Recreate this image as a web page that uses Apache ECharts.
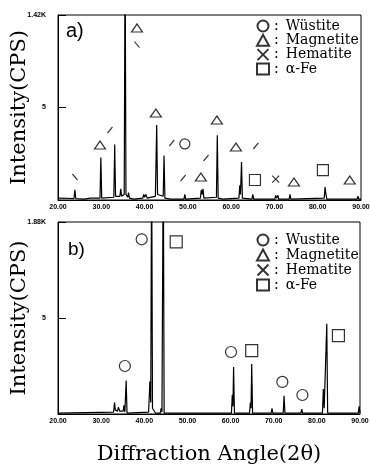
<!DOCTYPE html>
<html>
<head>
<meta charset="utf-8">
<title>XRD patterns</title>
<script src="https://cdn.jsdelivr.net/npm/echarts@6/dist/echarts.min.js"></script>
<style>
  html, body { margin: 0; padding: 0; background: #fff; }
  #chart { width: 370px; height: 468px; }
</style>
</head>
<body>
<div id="chart"></div>
<script>
// x axis ticks (2 theta, degrees) and y tick texts
const angleTicks = [20, 30, 40, 50, 60, 70, 80, 90];
const yTopLabelA = '1.42K';
const yTopLabelB = '1.88K';
const yMidLabel = '5';

// pattern a) : [2theta, intensity], 10 = top of the frame
const patternA = [
  [20, 0.1], [23.7, 0.08], [23.9, 0.55], [24.1, 0.08], [26, 0.05], [27.5, 0.1],
  [29.7, 0.1], [29.9, 2.3], [30.1, 0.1], [32.9, 0.15], [33.1, 3.0], [33.3, 0.2],
  [34.3, 0.2], [34.5, 0.6], [34.7, 0.2], [35.3, 0.3], [35.5, 14], [35.7, 0.3],
  [36.1, 0.15], [36.3, 0.4], [36.5, 0.1], [37.5, 0.05], [39.6, 0.1], [39.8, 0.3],
  [40.0, 0.15], [40.3, 0.3], [40.6, 0.1], [42.5, 0.2], [42.8, 4.05], [43.0, 0.3],
  [43.2, 0.3], [44.3, 0.2], [44.5, 2.4], [44.7, 0.1], [46, 0.05], [49.1, 0.05],
  [49.3, 0.3], [49.5, 0.05], [52.9, 0.1], [53.1, 0.55], [53.3, 0.3], [53.5, 0.6],
  [53.7, 0.1], [56.6, 0.15], [56.8, 3.5], [57.0, 0.1], [58, 0.05], [61.8, 0.1],
  [62.0, 0.8], [62.15, 0.3], [62.4, 2.05], [62.6, 0.1], [64.8, 0.05], [65.0, 0.3],
  [65.2, 0.05], [70.1, 0.05], [70.3, 0.25], [70.5, 0.1], [70.8, 0.25], [71.0, 0.05],
  [73.4, 0.05], [73.6, 0.3], [73.8, 0.05], [81.5, 0.1], [81.7, 0.7], [81.9, 0.3],
  [82.1, 0.05], [89.1, 0.05], [89.3, 0.2], [89.5, 0.05], [90, 0.05]
];

// pattern b)
const patternB = [
  [20, 0.05], [32.9, 0.1], [33.1, 0.6], [33.3, 0.2], [33.8, 0.15], [34.0, 0.35],
  [34.3, 0.15], [35.1, 0.15], [35.3, 0.45], [35.5, 0.1], [35.6, 0.1], [35.8, 1.75],
  [36.0, 0.05], [41.0, 0.1], [41.3, 1.7], [41.5, 0.6], [41.7, 14], [41.9, 0.3],
  [42.3, 0.25], [42.6, 0.05], [43.7, 0.05], [43.9, 0.3], [44.1, 0.1], [44.4, 14],
  [44.6, 0.05], [55, 0.05], [55.1, 0.15], [55.2, 0.05], [60.2, 0.05], [60.4, 1.0],
  [60.55, 0.4], [60.7, 2.45], [60.9, 0.05], [64.4, 0.05], [64.6, 0.6], [64.75, 0.3],
  [64.9, 2.6], [65.1, 0.05], [69.4, 0.05], [69.6, 0.3], [69.8, 0.05], [72.2, 0.05],
  [72.4, 0.95], [72.6, 0.05], [76.3, 0.05], [76.5, 0.25], [76.7, 0.05], [81.3, 0.05],
  [81.5, 1.3], [81.7, 0.3], [82.1, 0.3], [82.3, 4.7], [82.5, 0.05], [89.6, 0.05],
  [89.8, 0.4], [90, 0.05]
];

// phase marks placed over the peaks
const wustiteA = [[49.3, 3.03]];
const magnetiteA = [[38.25, 9.3], [29.7, 2.97], [42.6, 4.7], [53.0, 1.24], [56.7, 4.32],
  [61.1, 2.86], [74.5, 0.97], [87.4, 1.08]];
const hematiteA = [[70.3, 1.13]];
const ironA = [[65.5, 1.08], [81.2, 1.62]];
const backslashA = [[23.9, 1.24], [38.25, 8.4]];
const slashA = [[32.0, 3.78], [46.3, 3.08], [48.9, 1.19], [54.2, 2.27], [65.7, 2.92]];

const wustiteB = [[35.5, 2.5], [39.4, 9.1], [60.1, 3.23], [72.0, 1.67], [76.65, 0.99]];
const ironB = [[47.4, 8.96], [64.9, 3.3], [85.0, 4.08]];

const phaseNames = ['Wüstite', 'Magnetite', 'Hematite', 'α-Fe'];

const SERIF = "'DejaVu Serif', 'Liberation Serif', serif";
const crossPath = 'path://M0,0L10,10M10,0L0,10';
const hollow = { color: 'rgba(0,0,0,0)', borderColor: '#000', borderWidth: 1.2 };

function xAxisFor(i, name) {
  return {
    gridIndex: i, type: 'value', min: 20, max: 90, interval: 10,
    axisLine: { lineStyle: { color: '#000', width: 1 } },
    axisTick: { show: false },
    splitLine: { show: false },
    axisLabel: {
      color: '#000', fontSize: 7, fontWeight: 'bold', fontFamily: 'Liberation Sans',
      margin: 4, formatter: v => angleTicks.includes(v) ? v.toFixed(2) : ''
    },
    name: name || '', nameLocation: 'middle', nameGap: 30,
    nameTextStyle: { color: '#000', fontFamily: SERIF, fontSize: 21 }
  };
}

function yAxisFor(i, topLabel) {
  return {
    gridIndex: i, type: 'value', min: 0, max: 10, interval: 5,
    axisLine: { show: true, lineStyle: { color: '#000', width: 1 } },
    axisTick: { show: true, inside: true, length: 8, lineStyle: { color: '#000' } },
    splitLine: { show: false },
    axisLabel: {
      color: '#000', fontSize: 7, fontWeight: 'bold', fontFamily: 'Liberation Sans',
      margin: 12, formatter: v => v === 10 ? topLabel : (v === 5 ? yMidLabel : '')
    },
    name: 'Intensity(CPS)', nameLocation: 'middle', nameGap: 28, nameMoveOverlap: false,
    nameTextStyle: { color: '#000', fontFamily: SERIF, fontSize: 21 }
  };
}

function marks(name, data, i, symbol, size) {
  return {
    name, type: 'scatter', xAxisIndex: i, yAxisIndex: i, data,
    symbol, symbolSize: size, itemStyle: hollow, z: 5, silent: true
  };
}

function legendFor(top, gap, rename) {
  return {
    data: phaseNames, orient: 'vertical', left: 251, top, itemGap: gap,
    itemWidth: 12, itemHeight: 11, selectedMode: false,
    formatter: n => ':\u2002' + (rename ? n.replace('ü', 'u') : n),
    textStyle: { color: '#000', fontFamily: SERIF, fontSize: 14, lineHeight: 14 }
  };
}

const chart = echarts.init(document.getElementById('chart'), null, { renderer: 'canvas' });

chart.setOption({
  backgroundColor: '#fff',
  animation: false,
  grid: [
    { left: 58, top: 15, width: 303, height: 185, show: true, borderColor: '#000', borderWidth: 1,
      containLabel: false, outerBoundsMode: 'none' },
    { left: 58, top: 222, width: 302, height: 192, show: true, borderColor: '#000', borderWidth: 1,
      containLabel: false, outerBoundsMode: 'none' }
  ],
  xAxis: [xAxisFor(0), xAxisFor(1, 'Diffraction Angle(2θ)')],
  yAxis: [yAxisFor(0, yTopLabelA), yAxisFor(1, yTopLabelB)],
  legend: [legendFor(14, 0.3, false), legendFor(228, 1, true)],
  graphic: [
    { type: 'text', left: 66, top: 21, style: { text: 'a)', font: "20px 'Liberation Sans'", fill: '#000' } },
    { type: 'text', left: 68, top: 240, style: { text: 'b)', font: "19px 'Liberation Sans'", fill: '#000' } }
  ],
  series: [
    {
      type: 'line', xAxisIndex: 0, yAxisIndex: 0, data: patternA, symbol: 'none',
      clip: true, lineStyle: { color: '#000', width: 1.2 }, silent: true
    },
    {
      type: 'line', xAxisIndex: 1, yAxisIndex: 1, data: patternB, symbol: 'none',
      clip: true, lineStyle: { color: '#000', width: 1.2 }, silent: true
    },
    marks('Wüstite', wustiteA, 0, 'circle', 10),
    marks('Magnetite', magnetiteA, 0, 'triangle', [11, 8]),
    marks('Hematite', hematiteA, 0, crossPath, 7),
    marks('α-Fe', ironA, 0, 'rect', 11),
    marks('marks', backslashA, 0, 'path://M0,0L10,10', [5, 6]),
    marks('marks', slashA, 0, 'path://M10,0L0,10', [5, 6]),
    marks('Wüstite', wustiteB, 1, 'circle', 11),
    marks('α-Fe', ironB, 1, 'rect', 12),
    marks('Magnetite', [], 1, 'triangle', [11, 8]),
    marks('Hematite', [], 1, crossPath, 7)
  ]
});
</script>
</body>
</html>
